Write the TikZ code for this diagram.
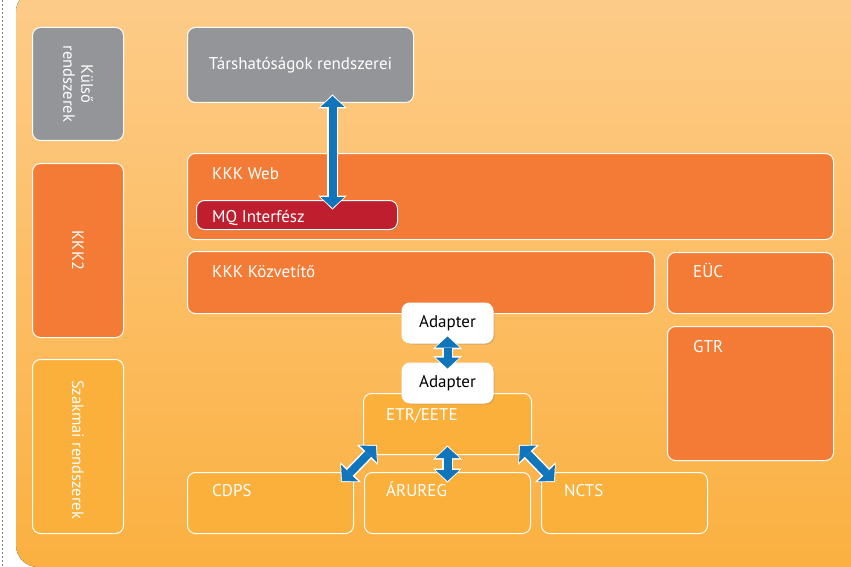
\documentclass[tikz,border=0pt]{standalone}
\usepackage{fontspec}
\setmainfont{PT Sans}
\usetikzlibrary{arrows.meta,shadows}

\definecolor{kkkorange}{HTML}{F37B35}
\definecolor{kkkgrey}{HTML}{939598}
\definecolor{kkkyellow}{HTML}{FBB03B}
\definecolor{kkkred}{HTML}{BE1E2D}
\definecolor{kkkblue}{HTML}{1175BB}
\definecolor{paneltop}{HTML}{FDCC8A}
\definecolor{panelbot}{HTML}{FBB040}

\tikzset{
  box/.style={draw=white, line width=1pt, rounded corners=8pt, anchor=north west, inner sep=0pt},
  lbl/.style={anchor=base west, text=white, inner sep=0pt, font=\fontsize{17}{19}\selectfont},
  vlbl/.style={text=white, inner sep=0pt, rotate=-90, align=center, font=\fontsize{16.5}{18}\selectfont},
  adapter/.style={box, anchor=center, fill=white, minimum width=91pt, minimum height=40pt,
    font=\fontsize{17}{19}\selectfont, drop shadow={shadow xshift=1.5pt, shadow yshift=-1.5pt, opacity=0.3}},
  arrwhite/.style={draw=white, line width=11pt, >={Triangle[width=29pt,length=14pt,line width=0pt]}, <->,
    shorten <=-1.5pt, shorten >=-1.5pt},
  arrblue/.style={draw=kkkblue, line width=8pt, >={Triangle[width=24pt,length=11pt,line width=0pt]}, <->}
}
\newcommand{\twoway}[2]{\draw[arrwhite] #1 -- #2; \draw[arrblue] #1 -- #2;}

\begin{document}
\begin{tikzpicture}[x=1pt,y=-1pt]
  \useasboundingbox (0,0) rectangle (851,567);
  \clip (0,0) rectangle (851,567);

  \fill[top color=paneltop, bottom color=panelbot] (16,-10) [rounded corners=22pt] -- (16,567) -- (880,567) -- (880,-10) -- cycle;
  \draw[gray, line width=0.8pt, dash pattern=on 2pt off 2pt] (2,0) -- (2,567);

  \node[box, fill=kkkgrey, minimum width=91pt, minimum height=113pt] (kulso) at (32,27) {};
  \node[box, fill=kkkorange, minimum width=91pt, minimum height=174pt] (kkk2) at (32,163) {};
  \node[box, fill=kkkyellow, minimum width=91pt, minimum height=174pt] (szakmai) at (32,359) {};
  \node[vlbl] (kulsolbl) at (kulso.center) {Külső\\rendszerek};
  \node[vlbl] (kkk2lbl) at (kkk2.center) {KKK2};
  \node[vlbl] (szakmailbl) at ([yshift=-3pt]szakmai.center) {Szakmai rendszerek};

  \node[box, fill=kkkgrey, minimum width=226pt, minimum height=75pt] (tars) at (187,27) {};
  \node[lbl, anchor=center] (tarslbl) at (tars.center) {Társhatóságok rendszerei};

  \node[box, fill=kkkorange, minimum width=646pt, minimum height=86pt] (web) at (187,153) {};
  \node[lbl] (weblbl) at (212,179) {KKK Web};
  \node[box, fill=kkkred, minimum width=201pt, minimum height=29pt,
    drop shadow={shadow xshift=1.5pt, shadow yshift=-1.5pt, opacity=0.3}] (mq) at (196,200) {};
  \node[lbl] (mqlbl) at (212,222) {MQ Interfész};

  \node[box, fill=kkkorange, minimum width=467pt, minimum height=62pt] (kozv) at (187,251) {};
  \node[lbl] (kozvlbl) at (212,277) {KKK Közvetítő};
  \node[box, fill=kkkorange, minimum width=166pt, minimum height=61pt] (euc) at (667,252) {};
  \node[lbl] (euclbl) at (693,277) {EÜC};
  \node[box, fill=kkkorange, minimum width=166pt, minimum height=134pt] (gtr) at (667,326) {};
  \node[lbl] (gtrlbl) at (693,352) {GTR};

  \node[box, fill=kkkyellow, minimum width=168pt, minimum height=61pt] (etr) at (363,393) {};
  \node[lbl] (etrlbl) at (386,420) {ETR/EETE};
  \node[box, fill=kkkyellow, minimum width=166pt, minimum height=61pt] (cdps) at (187,472) {};
  \node[lbl] (cdpslbl) at (212,496) {CDPS};
  \node[box, fill=kkkyellow, minimum width=166pt, minimum height=61pt] (arureg) at (364,472) {};
  \node[lbl] (arureglbl) at (386,496) {ÁRUREG};
  \node[box, fill=kkkyellow, minimum width=166pt, minimum height=61pt] (ncts) at (541,472) {};
  \node[lbl] (nctslbl) at (564,496) {NCTS};

  \node[adapter] (adapter1) at (447.5,323) {Adapter};
  \node[adapter] (adapter2) at (447.5,383) {Adapter};

  \twoway{([xshift=32pt,yshift=7pt]tars.south)}{([xshift=35.5pt,yshift=-8pt]mq.north)}
  \twoway{([yshift=7pt]adapter1.south)}{([yshift=-6pt]adapter2.north)}
  \twoway{([xshift=13pt,yshift=9pt]etr.south west)}{([xshift=-12pt,yshift=-9pt]cdps.north east)}
  \twoway{([yshift=8pt]etr.south)}{([yshift=-9pt]arureg.north)}
  \twoway{([xshift=-12pt,yshift=9pt]etr.south east)}{([xshift=13pt,yshift=-9pt]ncts.north west)}
\end{tikzpicture}
\end{document}
